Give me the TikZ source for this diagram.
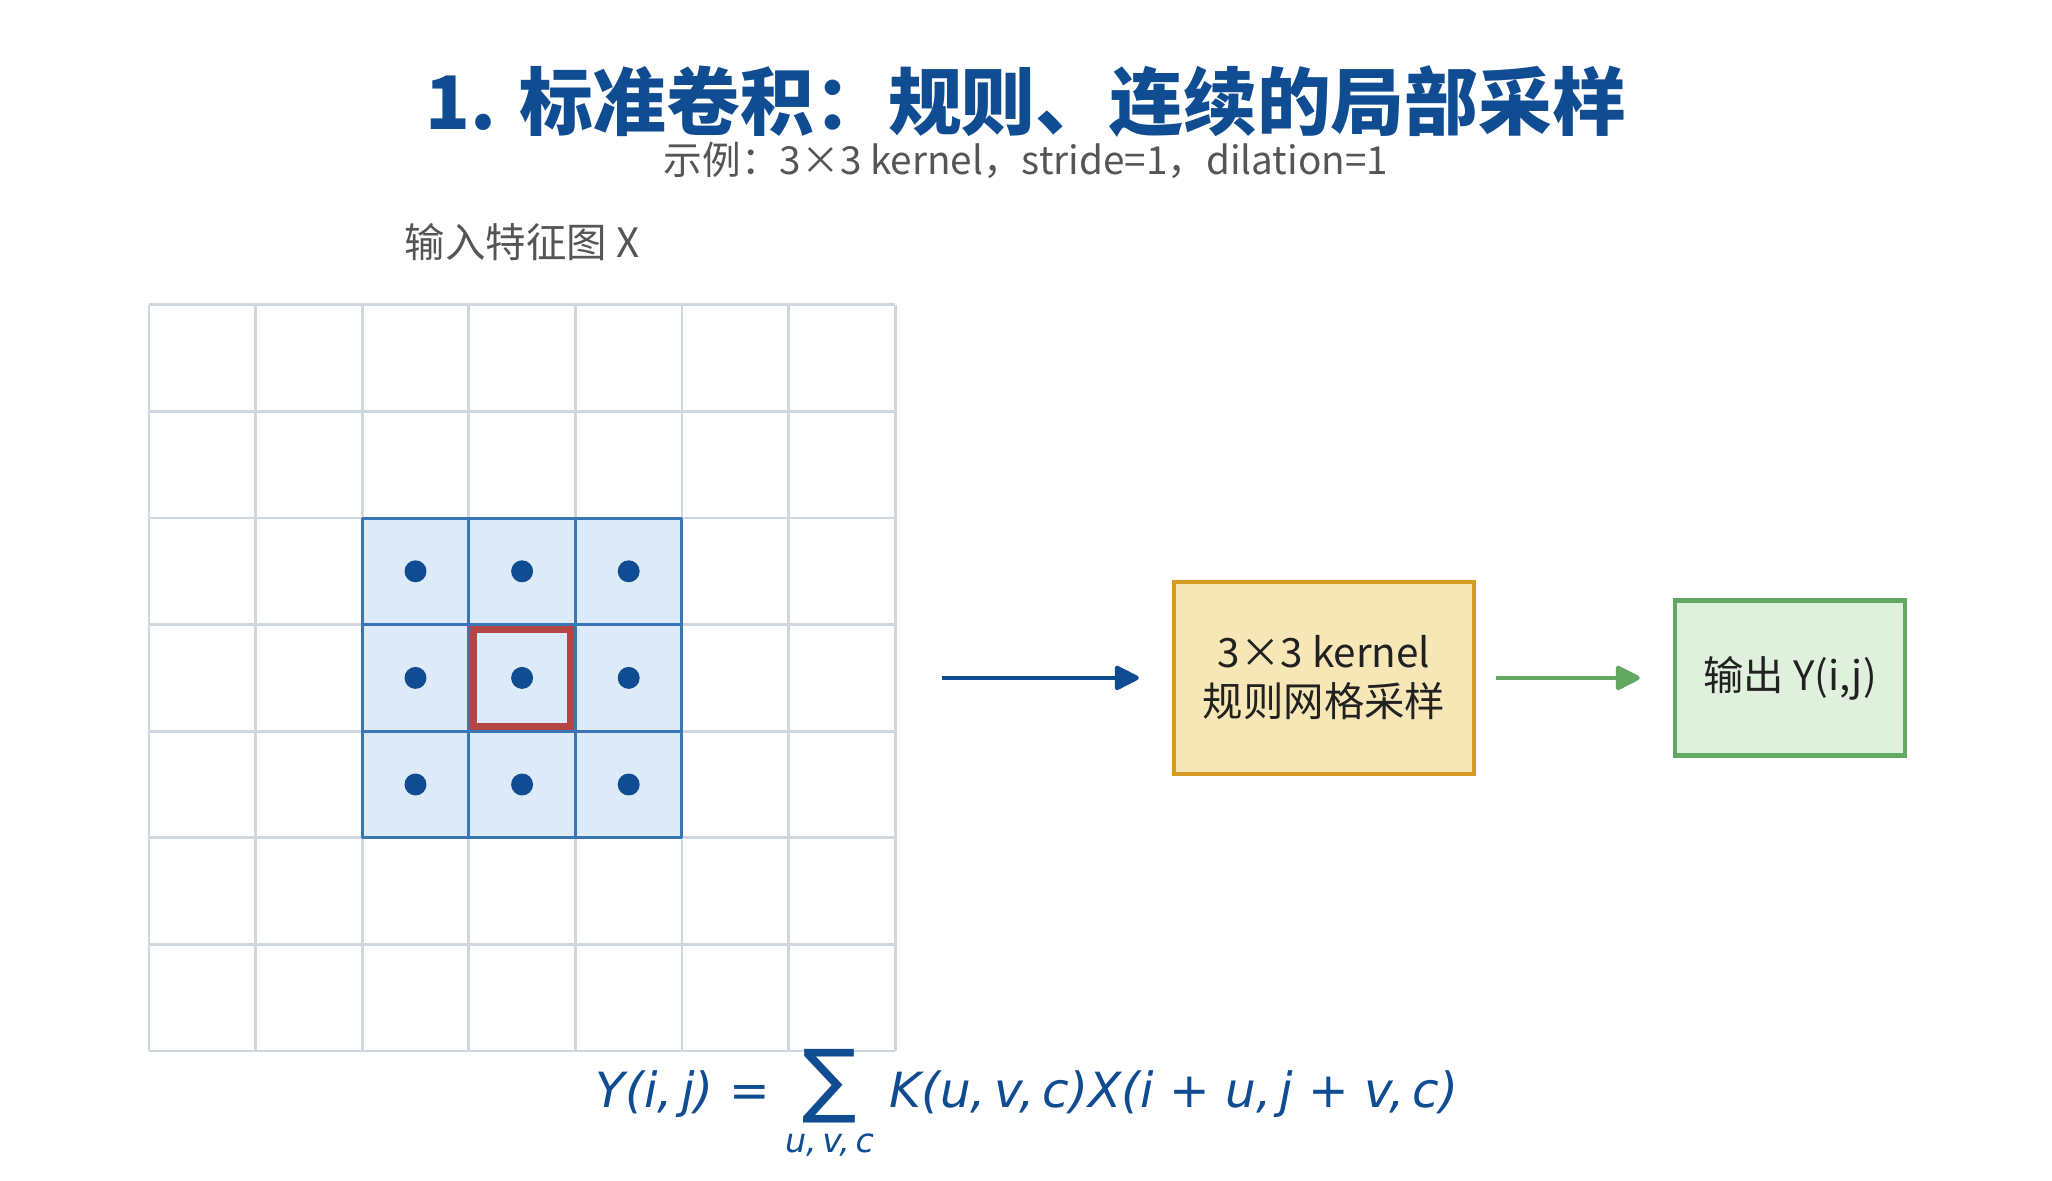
\documentclass[tikz,border=0pt]{standalone}
\usepackage{fontspec}
\usepackage{amsmath}
\usetikzlibrary{arrows.meta,positioning}
\setmainfont{Noto Sans CJK SC}
\newfontfamily\formfont{DejaVu Sans}[ItalicFont={DejaVu Sans Oblique}]

\definecolor{titleblue}{HTML}{0F4C92}
\definecolor{textgray}{HTML}{555555}
\definecolor{gridgray}{HTML}{D0D8DF}
\definecolor{kernblue}{HTML}{3A75B8}
\definecolor{kernfill}{HTML}{DDEAF8}
\definecolor{centerred}{HTML}{B34545}
\definecolor{boxgold}{HTML}{D59B25}
\definecolor{boxyellow}{HTML}{F8E7B6}
\definecolor{outgreen}{HTML}{62A862}
\definecolor{outfill}{HTML}{DFF0DC}

\tikzset{
  gridline/.style={draw=gridgray, line width=0.85pt},
  kernline/.style={draw=kernblue, line width=0.85pt},
  sampledot/.style={fill=titleblue},
  labeltext/.style={text=textgray, font=\fontsize{11.5}{14}\selectfont},
  kernelbox/.style={draw=boxgold, fill=boxyellow, line width=1.3pt,
    minimum width=3.0cm, minimum height=1.92cm, align=center,
    text=black!87, font=\fontsize{11.5}{14}\selectfont},
  outbox/.style={draw=outgreen, fill=outfill, line width=1.3pt,
    minimum width=2.3cm, minimum height=1.55cm, align=center,
    text=black!87, font=\fontsize{11.5}{14}\selectfont},
  flowline/.style={line width=1.3pt}
}

\begin{document}
\begin{tikzpicture}[%
>={Triangle[length=0.27cm,width=0.26cm,round]},
on grid,
auto
]
\useasboundingbox (0,0) rectangle (20.52,11.80);

\node[text=titleblue, font=\fontsize{21}{25}\selectfont\bfseries] (title) at (10.26,10.78)
  {1. 标准卷积：规则、连续的局部采样};
\node[text=textgray, font=\fontsize{11}{13}\selectfont] (sub) [below=0.58cm of title]
  {示例：3×3 kernel，stride=1，dilation=1};

% input feature map
\node[minimum size=7.462cm, inner sep=0, outer sep=0] (grid) at (5.221,5.021) {};
\node[labeltext] (inlabel) [above=4.36cm of grid] {输入特征图 X};
\begin{scope}[shift={(1.49,1.29)}, scale=1.066]
  \fill[kernfill] (2,2) rectangle (5,5);
  \draw[gridline] (0,0) grid (7,7);
  \draw[kernline] (2,2) grid (5,5);
  \draw[centerred, line width=2pt] (3.044,3.044) rectangle (3.956,3.956);
  \foreach \i in {2,3,4}
    \foreach \j in {2,3,4}
      \fill[sampledot] (\i+0.5,\j+0.5) circle (0.103);
\end{scope}

\node[kernelbox] (kernel) [right=8.02cm of grid] {3×3 kernel\\规则网格采样};
\node[outbox] (out) [right=4.66cm of kernel] {输出 Y(i,j)};

\path[->] (grid) edge [flowline, titleblue, shorten <=0.47cm, shorten >=0.33cm] node {}
         (kernel);
\path[->] (kernel) edge [flowline, outgreen, shorten <=0.2cm, shorten >=0.33cm] node {}
         (out);

% formula
\node[anchor=base, text=titleblue, font=\formfont\fontsize{13.8}{17}\selectfont\itshape] (eq) at (10.27,0.73)
  {Y(i,\,j) = $\mathop{\hbox{\upshape\fontsize{23}{23}\selectfont ∑}}\limits_{\hbox{\fontsize{9.5}{11}\selectfont\itshape u,\,v,\,c}}$ K(u,\,v,\,c)X(i + u,\,j + v,\,c)};
\end{tikzpicture}
\end{document}
